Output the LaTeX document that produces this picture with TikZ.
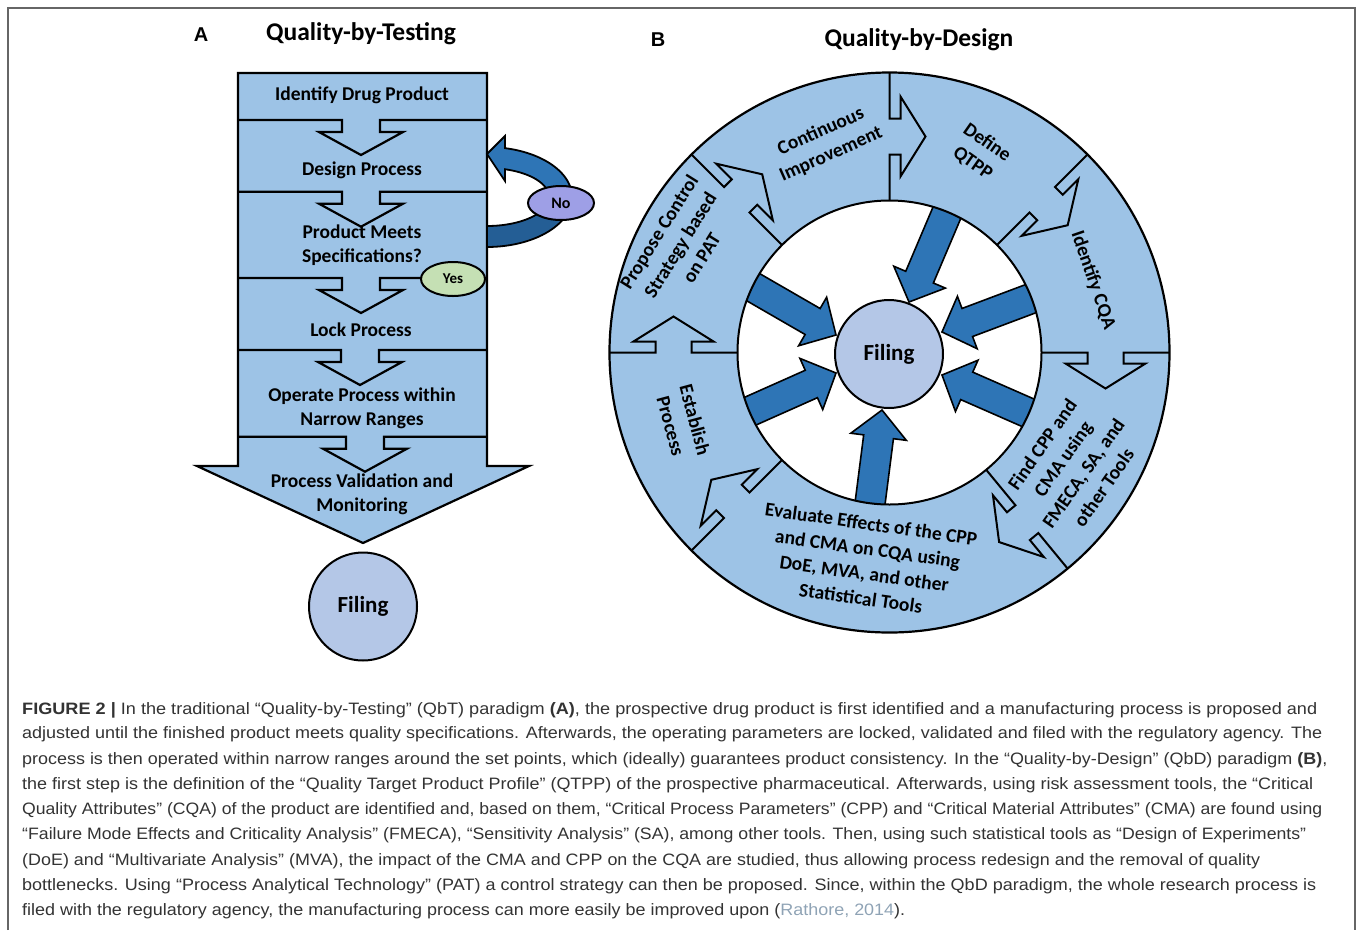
\documentclass[tikz,border=0pt]{standalone}
\usepackage{fontspec}
\usepackage{graphicx}
\setmainfont{Carlito}
\newfontfamily\capfont{Liberation Sans}
\usetikzlibrary{shapes.geometric}
\definecolor{lb}{HTML}{9DC3E6}
\definecolor{fl}{HTML}{B4C7E7}
\definecolor{db}{HTML}{2E75B6}
\definecolor{ddb}{HTML}{245E95}
\definecolor{nocol}{HTML}{9E9FE6}
\definecolor{yescol}{HTML}{C5E0B4}
\definecolor{captxt}{HTML}{333333}
\definecolor{refcol}{HTML}{8FA3B5}
\definecolor{framecol}{HTML}{666666}
\begin{document}
\begin{tikzpicture}[x=1pt,y=-1pt,
  outl/.style={draw=black,line width=2.2pt,line join=miter,miter limit=10},
  boxtxt/.style={font=\bfseries\fontsize{19.5}{24.5}\selectfont,align=center,inner sep=0pt},
  ringtxt/.style={font=\bfseries\fontsize{19.5}{25}\selectfont,align=center,inner sep=0pt},
  ttl/.style={font=\bfseries\fontsize{25.5}{28}\selectfont,inner sep=0pt},
  panel/.style={font=\capfont\bfseries\fontsize{20}{22}\selectfont,inner sep=0pt},
  filing/.style={circle,draw=black,line width=2pt,fill=fl,minimum size=108pt,inner sep=0pt,font=\bfseries\fontsize{23}{26}\selectfont},
  capline/.style={anchor=west,inner sep=0pt,text=captxt,font=\capfont\fontsize{16.5}{20}\selectfont},
  darr/.style={fill=db,draw=black,line width=1.6pt,line join=miter},
  oval/.style={ellipse,draw=black,line width=2pt,inner sep=0pt,font=\bfseries\fontsize{16}{18}\selectfont}
]
\useasboundingbox (0,0) rectangle (1358,930);
\draw[framecol,line width=2pt] (8,930) -- (8,8) -- (1355,8) -- (1355,930);

% ---------------- Panel A ----------------
\node[panel] (labA) at (201,35) {A};
\node[ttl] (titA) at (361,34) {Quality-by-Testing};

\draw[outl,fill=lb] (238,73) -- (487,73) -- (487,466) -- (529,466) -- (363,543) -- (197,466) -- (238,466) -- cycle;
\foreach \y/\c in {120/361,191.7/361,278/361,350/360,436.7/365}{
  \draw[outl] (238,\y) -- ({\c-19},\y) -- ({\c-19},{\y+12}) -- ({\c-42},{\y+12}) -- (\c,{\y+35})
    -- ({\c+42},{\y+12}) -- ({\c+19},{\y+12}) -- ({\c+19},\y) -- (487,\y);
}

% loop arrow (No)
\filldraw[fill=db,draw=black,line width=1.8pt,line join=miter]
  (505,136) -- (487,154) -- (505,181) -- (505,169.25)
  -- plot[domain=-73.1:0,samples=30] ({487+62*cos(\x)},{197+29*sin(\x)})
  -- (572,197)
  -- plot[domain=0:-77.8,samples=30] ({487+85*cos(\x)},{197+50*sin(\x)})
  -- cycle;
\filldraw[fill=ddb,draw=black,line width=1.8pt]
  (549,197) -- plot[domain=0:90,samples=30] ({487+62*cos(\x)},{197+29*sin(\x)})
  -- (487,247) -- plot[domain=90:0,samples=30] ({487+85*cos(\x)},{197+50*sin(\x)}) -- cycle;

\node[boxtxt] (a1) at (362,95) {Identify Drug Product};
\node[boxtxt] (a2) at (362,170) {Design Process};
\node[boxtxt] (a3) at (362,245) {Product Meets\\Specifications?};
\node[boxtxt] (a4) at (361,330) {Lock Process};
\node[boxtxt] (a5) at (362,408.5) {Operate Process within\\Narrow Ranges};
\node[boxtxt] (a6) at (362,494.5) {Process Validation and\\Monitoring};

\node[oval,fill=nocol,minimum width=66pt,minimum height=34pt] (no) at (561,203) {No};
\node[oval,fill=yescol,minimum width=64pt,minimum height=34pt,font=\bfseries\fontsize{15}{17}\selectfont] (yes) at (453,279) {Yes};

\node[filing] (filA) at (363,606.5) {Filing};

% ---------------- Panel B ----------------
\def\cx{889.5}
\def\cy{352.5}
\node[panel] (labB) at (658,40) {B};
\node[ttl] (titB) at (919,40) {Quality-by-Design};

% inner arrows
\foreach \tx/\ty/\a in {909/302/113, 836/335/30, 836/373/-24, 942/332/159.4, 942/375/203.7, 882/410/-82.7}{
  \begin{scope}[shift={(\tx,\ty)},rotate={0-(\a)}]
    \draw[darr] (0,0) -- (-27,28) -- (-27,15) -- (-150,15) -- (-150,-15) -- (-27,-15) -- (-27,-28) -- cycle;
  \end{scope}
}
% ring
\fill[lb,even odd rule] (\cx,\cy) circle[radius=280] (\cx,\cy) circle[radius=152];
\draw[black,line width=2.2pt] (\cx,\cy) circle[radius=280];
\draw[black,line width=2pt] (\cx,\cy) circle[radius=152];
\foreach \p in {-90,-45,0,50.5,135,180,225}{
  \begin{scope}[shift={(\cx,\cy)},rotate={0-(\p)}]
    \draw[outl,line width=2pt] (152,0) -- (198,0) -- (198,11) -- (176,11) -- (216,36) -- (256,11) -- (234,11) -- (234,0) -- (280,0);
  \end{scope}
}
\node[filing] (filB) at (889,354) {Filing};

\node[ringtxt,rotate=24] (ci) at (826,143) {Continuous\\Improvement};
\node[ringtxt,rotate=-35] (dq) at (980,153) {Define\\QTPP};
\node[ringtxt,rotate=-71] (cqa) at (1093,280) {Identify CQA};
\node[ringtxt,rotate=55] (cpp) at (1073,466) {Find CPP and\\CMA using\\FMECA, SA, and\\other Tools};
\node[ringtxt,rotate=-8] (ev) at (866,561) {Evaluate Effects of the CPP\\and CMA on CQA using\\DoE, MVA, and other\\Statistical Tools};
\node[ringtxt,rotate=-75] (est) at (683,423) {Establish\\Process};
\node[ringtxt,rotate=58] (pcs) at (680,245) {Propose Control\\Strategy based\\on PAT};

% ---------------- Caption ----------------
\node[capline] (c1) at (22,710) {\resizebox{1295pt}{\height}{\textbf{FIGURE 2 |} In the traditional “Quality-by-Testing” (QbT) paradigm \textbf{(A)}, the prospective drug product is first identified and a manufacturing process is proposed and}};
\node[capline] (c2) at (22,734.5) {\resizebox{1300pt}{\height}{adjusted until the finished product meets quality specifications. Afterwards, the operating parameters are locked, validated and filed with the regulatory agency. The}};
\node[capline] (c3) at (22,760) {\resizebox{1305pt}{\height}{process is then operated within narrow ranges around the set points, which (ideally) guarantees product consistency. In the “Quality-by-Design” (QbD) paradigm \textbf{(B)},}};
\node[capline] (c4) at (22,785) {\resizebox{1291pt}{\height}{the first step is the definition of the “Quality Target Product Profile” (QTPP) of the prospective pharmaceutical. Afterwards, using risk assessment tools, the “Critical}};
\node[capline] (c5) at (22,810) {\resizebox{1300pt}{\height}{Quality Attributes” (CQA) of the product are identified and, based on them, “Critical Process Parameters” (CPP) and “Critical Material Attributes” (CMA) are found using}};
\node[capline] (c6) at (22,835.5) {\resizebox{1284pt}{\height}{“Failure Mode Effects and Criticality Analysis” (FMECA), “Sensitivity Analysis” (SA), among other tools. Then, using such statistical tools as “Design of Experiments”}};
\node[capline] (c7) at (22,861) {\resizebox{1238pt}{\height}{(DoE) and “Multivariate Analysis” (MVA), the impact of the CMA and CPP on the CQA are studied, thus allowing process redesign and the removal of quality}};
\node[capline] (c8) at (22,886) {\resizebox{1294pt}{\height}{bottlenecks. Using “Process Analytical Technology” (PAT) a control strategy can then be proposed. Since, within the QbD paradigm, the whole research process is}};
\node[capline] (c9) at (22,911) {\resizebox{883pt}{\height}{filed with the regulatory agency, the manufacturing process can more easily be improved upon (\textcolor{refcol}{Rathore, 2014}).}};
\end{tikzpicture}
\end{document}
